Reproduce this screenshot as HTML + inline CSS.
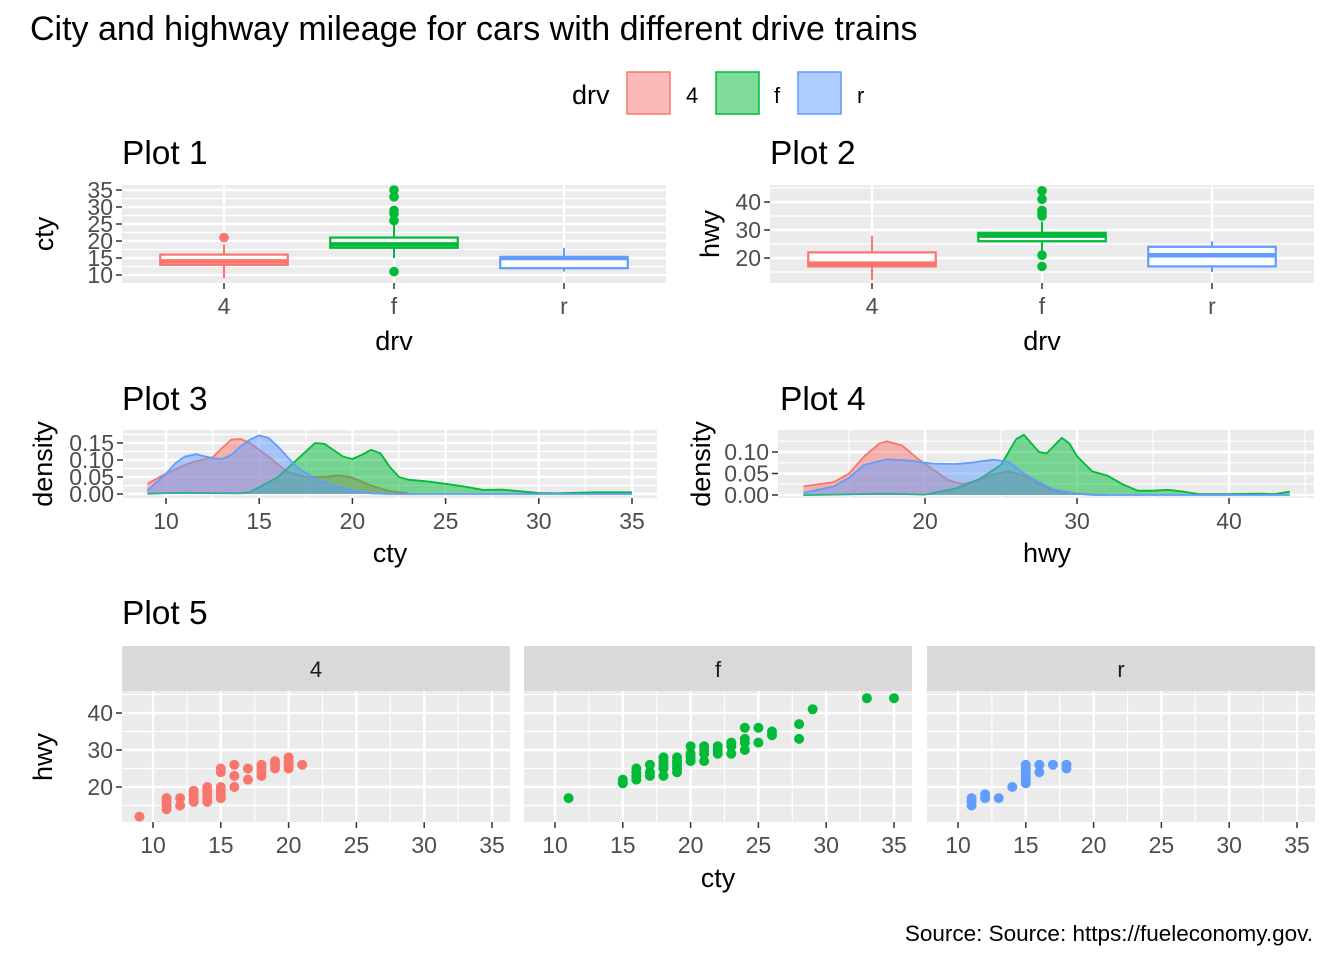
<!DOCTYPE html>
<html><head><meta charset="utf-8">
<style>
html,body{margin:0;padding:0;background:#fff;}
svg{display:block;font-family:"Liberation Sans",Arial,sans-serif;}
</style></head>
<body>
<svg id="chart" width="1344" height="960" viewBox="0 0 1344 960" xmlns="http://www.w3.org/2000/svg">
<rect width="1344" height="960" fill="#fff"/>
<text x="30" y="40" font-size="34" fill="#000">City and highway mileage for cars with different drive trains</text>
<g>
<text x="572" y="104" font-size="27" fill="#000">drv</text>
<rect x="627" y="72" width="43" height="42" fill="#F8766D" fill-opacity="0.5" stroke="#F8766D" stroke-width="1.5"/>
<text x="686" y="103" font-size="22" fill="#000">4</text>
<rect x="716" y="72" width="43" height="42" fill="#00BA38" fill-opacity="0.5" stroke="#00BA38" stroke-width="1.5"/>
<text x="774" y="103" font-size="22" fill="#000">f</text>
<rect x="798" y="72" width="43" height="42" fill="#619CFF" fill-opacity="0.5" stroke="#619CFF" stroke-width="1.5"/>
<text x="857" y="103" font-size="22" fill="#000">r</text>
</g>
<text x="1313" y="941" font-size="22.5" text-anchor="end" fill="#000">Source: Source: https://fueleconomy.gov.</text>
</svg>
<script>
// ---- data ----
const driveCats = ['4','f','r'];
const driveColors = ['#F8766D','#00BA38','#619CFF'];
// Plot 1: cty boxplot stats
const ctyMin = [9, 15, 11];
const ctyQ1 = [13, 18, 12];
const ctyMed = [14, 19, 15];
const ctyQ3 = [16, 21, 15.25];
const ctyMax = [19, 25, 18];
const ctyOutliers = [[21],[11,26,28,29,33,35],[]];
// Plot 2: hwy boxplot stats
const hwyMin = [12, 22, 15];
const hwyQ1 = [17, 26, 17];
const hwyMed = [18, 28, 21];
const hwyQ3 = [22, 29, 24];
const hwyMax = [28, 33, 26];
const hwyOutliers = [[],[17,21,35,36,37,41,44],[]];
// Plot 3: cty densities
const ctyDens4X = [9,10,11,11.5,12.5,13,13.5,14,14.5,15.5,16.5,17.5,18.5,19.3,20,21,22,23];
const ctyDens4Y = [0.03,0.06,0.085,0.095,0.108,0.135,0.16,0.162,0.15,0.11,0.065,0.05,0.05,0.055,0.048,0.025,0.008,0.003];
const ctyDensFX = [9,11,12,14,14.5,15,16,17,18,18.5,19.5,20,20.5,21,21.5,22,22.5,23,24,25,26,27,28,29,30,31,33,35];
const ctyDensFY = [0.001,0.004,0.003,0.002,0.005,0.02,0.05,0.1,0.15,0.148,0.11,0.103,0.115,0.13,0.12,0.08,0.05,0.042,0.037,0.03,0.022,0.012,0.013,0.008,0.003,0.002,0.005,0.005];
const ctyDensRX = [9,10,10.5,11,11.6,12.5,13,13.5,14,14.5,15,15.5,16,17,18,19,20,21,22,35];
const ctyDensRY = [0.01,0.06,0.09,0.11,0.117,0.105,0.103,0.115,0.14,0.16,0.172,0.165,0.14,0.08,0.045,0.025,0.01,0.002,0,0];
// Plot 4: hwy densities
const hwyDens4X = [12,14,15,16,17,17.5,18.5,19.5,20.5,21.5,22.5,23.5,24.5,25.5,26.5,27.5,28.5,30,31,32];
const hwyDens4Y = [0.02,0.03,0.05,0.09,0.12,0.125,0.115,0.085,0.06,0.035,0.025,0.035,0.048,0.055,0.045,0.025,0.01,0.003,0.001,0];
const hwyDensFX = [12,14,17.5,20,22,23.5,25,25.5,26,26.5,27,27.5,28,28.5,29,29.5,30,31,32,33,34,35,36,37,38,40,42,43,44];
const hwyDensFY = [0,0.001,0.003,0.001,0.015,0.035,0.07,0.1,0.13,0.14,0.12,0.1,0.097,0.115,0.133,0.12,0.09,0.055,0.045,0.025,0.01,0.01,0.012,0.008,0.002,0.002,0.003,0.002,0.008];
const hwyDensRX = [12,14,15,16,17.5,19,20.5,22,23,24.5,25.5,26.5,27.5,28.5,30,31,44];
const hwyDensRY = [0.005,0.02,0.04,0.07,0.083,0.08,0.073,0.072,0.075,0.082,0.077,0.05,0.03,0.012,0.003,0,0];
// Plot 5: scatter points
const scat4Cty = [9,11,11,11,11,12,12,13,13,13,13,14,14,14,14,14,15,15,15,15,15,15,16,16,16,17,17,18,18,18,18,19,19,19,20,20,20,20,21];
const scat4Hwy = [12,14,15,16,17,15,17,16,17,18,19,16,17,18,19,20,17,18,19,20,24,25,20,23,26,22,25,23,24,25,26,25,26,27,25,26,27,28,26];
const scatFCty = [11,15,15,16,16,16,16,17,17,17,18,18,18,18,18,19,19,19,19,19,20,20,20,20,21,21,21,21,22,22,22,23,23,23,24,24,24,24,25,25,26,26,28,28,29,33,35];
const scatFHwy = [17,21,22,22,23,24,25,23,24,26,23,25,26,27,28,24,25,26,27,28,27,28,29,31,27,29,30,31,29,30,31,29,31,32,30,32,33,36,32,36,34,35,33,37,41,44,44];
const scatRCty = [11,11,11,12,12,13,14,15,15,15,15,15,15,16,16,17,18,18];
const scatRHwy = [15,16,17,17,18,17,20,21,22,23,24,25,26,24,26,26,25,26];

// ---- helpers ----
const NS = 'http://www.w3.org/2000/svg';
const svg = document.getElementById('chart');
const TICK_FS = 23;
function mk(tag, attrs, parent){
  const e = document.createElementNS(NS, tag);
  for (const k in attrs) e.setAttribute(k, attrs[k]);
  (parent||svg).appendChild(e);
  return e;
}
function txt(s, attrs, parent){ const e = mk('text', attrs, parent); e.textContent = s; return e; }
function linear(d0,d1,r0,r1){ return v => r0 + (v-d0)/(d1-d0)*(r1-r0); }

function panel(name, x0,y0,x1,y1){
  const g = mk('g', {});
  
  
  const r = mk('rect', {x:x0,y:y0,width:x1-x0,height:y1-y0,fill:'#EBEBEB'}, g);
  
  
  return g;
}
function hgrid(g, x0,x1, ys, w){ ys.forEach(y => { const l = mk('line',{x1:x0,x2:x1,y1:y,y2:y,stroke:'#fff','stroke-width':w},g);   }); }
function vgrid(g, y0,y1, xs, w){ xs.forEach(x => { const l = mk('line',{x1:x,x2:x,y1:y0,y2:y1,stroke:'#fff','stroke-width':w},g);   }); }
function yTicks(g, xAxis, vals, sy, labels){
  vals.forEach((v,i) => {
    const y = sy(v);
    const t = mk('line',{x1:xAxis-6,x2:xAxis,y1:y,y2:y,stroke:'#333','stroke-width':1.5},g);
     
    const l = txt(labels[i],{x:xAxis-9,y:y+8,'font-size':TICK_FS,'text-anchor':'end',fill:'#4D4D4D'},g);
     
  });
}
function xTicks(g, yAxis, vals, sx, labels){
  vals.forEach((v,i) => {
    const x = sx(v);
    const t = mk('line',{x1:x,x2:x,y1:yAxis,y2:yAxis+6,stroke:'#333','stroke-width':1.5},g);
     
    const l = txt(labels[i],{x:x,y:yAxis+31,'font-size':TICK_FS,'text-anchor':'middle',fill:'#4D4D4D'},g);
     
  });
}
function title(s, x, y, name){
  const t = txt(s,{x:x,y:y,'font-size':33.5,fill:'#000'});
   
}
function axisTitle(s, x, y, rot, name){
  const a = {x:x,y:y,'font-size':27,'text-anchor':'middle',fill:'#000'};
  if (rot) a.transform = 'rotate(-90 '+x+' '+y+')';
  const t = txt(s,a);
   
}

// ---- Boxplot ----
function boxplot(name, x0,y0,x1,y1, sy, yMajor, yMinor, mins,q1s,meds,q3s,maxs,outs){
  const g = panel(name, x0,y0,x1,y1);
  hgrid(g,x0,x1,yMinor.map(sy),1.2);
  hgrid(g,x0,x1,yMajor.map(sy),2.4);
  const cc = driveCats.map((c,i)=> x0 + (i+1-0.4)/3.2*(x1-x0));
  vgrid(g,y0,y1,cc,2.4);
  const hw = 0.375/3.2*(x1-x0);
  driveCats.forEach((c,i) => {
    const col = driveColors[i], x = cc[i];
    const bg = mk('g',{},g);
     
    mk('line',{x1:x,x2:x,y1:sy(q3s[i]),y2:sy(maxs[i]),stroke:col,'stroke-width':2},bg);
    mk('line',{x1:x,x2:x,y1:sy(q1s[i]),y2:sy(mins[i]),stroke:col,'stroke-width':2},bg);
    mk('rect',{x:x-hw,y:sy(q3s[i]),width:2*hw,height:sy(q1s[i])-sy(q3s[i]),fill:'#fff',stroke:col,'stroke-width':2.2},bg);
    mk('line',{x1:x-hw,x2:x+hw,y1:sy(meds[i]),y2:sy(meds[i]),stroke:col,'stroke-width':4.5},bg);
    outs[i].forEach(v => {
      const p = mk('circle',{cx:x,cy:sy(v),r:4.8,fill:col},bg);
       
    });
  });
  yTicks(g, x0, yMajor, sy, yMajor.map(String));
  xTicks(g, y1, [0,1,2], i=>cc[i], driveCats);
}
title('Plot 1',122,164,'plot1-title');
boxplot('plot1-panel',122,185,666,283, linear(10,35,275,190),[10,15,20,25,30,35],[12.5,17.5,22.5,27.5,32.5],
  ctyMin,ctyQ1,ctyMed,ctyQ3,ctyMax,ctyOutliers);
axisTitle('drv',394,350,false,'plot1-x-axis-title');
axisTitle('cty',53,234,true,'plot1-y-axis-title');

title('Plot 2',770,164,'plot2-title');
boxplot('plot2-panel',770,185,1314,283, linear(20,40,258,202),[20,30,40],[15,25,35,45],
  hwyMin,hwyQ1,hwyMed,hwyQ3,hwyMax,hwyOutliers);
axisTitle('drv',1042,350,false,'plot2-x-axis-title');
axisTitle('hwy',719,234,true,'plot2-y-axis-title');

// ---- Density ----
function density(name, x0,y0,x1,y1, sx, sy, xMajor, xMinor, yMajor, yMinor, yLabels, series){
  const g = panel(name,x0,y0,x1,y1);
  hgrid(g,x0,x1,yMinor.map(sy),1.2);
  vgrid(g,y0,y1,xMinor.map(sx),1.2);
  hgrid(g,x0,x1,yMajor.map(sy),2.4);
  vgrid(g,y0,y1,xMajor.map(sx),2.4);
  series.forEach((s,k) => {
    const pts = s.x.map((v,i)=> sx(v).toFixed(1)+','+sy(s.y[i]).toFixed(1));
    const area = 'M'+sx(s.x[0]).toFixed(1)+','+sy(0)+' L'+pts.join(' L')+' L'+sx(s.x[s.x.length-1]).toFixed(1)+','+sy(0)+' Z';
    const a = mk('path',{d:area,fill:s.col,'fill-opacity':0.5,stroke:'none'},g);
     
    const l = mk('path',{d:'M'+pts.join(' L'),fill:'none',stroke:s.col,'stroke-width':1.8},g);
     
  });
  yTicks(g,x0,yMajor,sy,yLabels);
  xTicks(g,y1,xMajor,sx,xMajor.map(String));
}
title('Plot 3',122,410,'plot3-title');
density('plot3-panel',123,430,657,498, linear(10,35,166,632), linear(0,0.15,494,443),
  [10,15,20,25,30,35],[12.5,17.5,22.5,27.5,32.5],[0,0.05,0.1,0.15],[0.025,0.075,0.125,0.175],['0.00','0.05','0.10','0.15'],
  [{cat:'4',col:driveColors[0],x:ctyDens4X,y:ctyDens4Y},{cat:'f',col:driveColors[1],x:ctyDensFX,y:ctyDensFY},{cat:'r',col:driveColors[2],x:ctyDensRX,y:ctyDensRY}]);
axisTitle('cty',390,562,false,'plot3-x-axis-title');
axisTitle('density',52,464,true,'plot3-y-axis-title');

title('Plot 4',780,410,'plot4-title');
density('plot4-panel',778,430,1314,498, linear(20,40,925,1229), linear(0,0.1,495,452),
  [20,30,40],[15,25,35,45],[0,0.05,0.1],[0.025,0.075,0.125],['0.00','0.05','0.10'],
  [{cat:'4',col:driveColors[0],x:hwyDens4X,y:hwyDens4Y},{cat:'f',col:driveColors[1],x:hwyDensFX,y:hwyDensFY},{cat:'r',col:driveColors[2],x:hwyDensRX,y:hwyDensRY}]);
axisTitle('hwy',1047,562,false,'plot4-x-axis-title');
axisTitle('density',710,464,true,'plot4-y-axis-title');

// ---- Facets ----
title('Plot 5',122,624,'plot5-title');
const facetX0 = [122,524,927];
const facetW = 388;
const syS = linear(20,40,787,713);
const facetData = [[scat4Cty,scat4Hwy],[scatFCty,scatFHwy],[scatRCty,scatRHwy]];
driveCats.forEach((c,k) => {
  const x0 = facetX0[k], x1 = x0+facetW;
  const sx = linear(10,35,x0+31,x0+370);
  const s = mk('rect',{x:x0,y:646,width:facetW,height:45,fill:'#D9D9D9'});
   
  const st = txt(c,{x:(x0+x1)/2,y:677,'font-size':22,'text-anchor':'middle',fill:'#1A1A1A'});
   
  const g = panel('facet-panel-'+c,x0,691,x1,822);
  hgrid(g,x0,x1,[15,25,35,45].map(syS),1.2);
  vgrid(g,691,822,[12.5,17.5,22.5,27.5,32.5].map(sx),1.2);
  hgrid(g,x0,x1,[20,30,40].map(syS),2.4);
  vgrid(g,691,822,[10,15,20,25,30,35].map(sx),2.4);
  const xs = facetData[k][0], ys = facetData[k][1];
  xs.forEach((v,i) => {
    const p = mk('circle',{cx:sx(v),cy:syS(ys[i]),r:5,fill:driveColors[k]},g);
     
  });
  if (k===0) yTicks(g,x0,[20,30,40],syS,['20','30','40']);
  xTicks(g,822,[10,15,20,25,30,35],sx,['10','15','20','25','30','35']);
});
axisTitle('cty',718,887,false,'plot5-x-axis-title');
axisTitle('hwy',52,757,true,'plot5-y-axis-title');
</script>
</body></html>
